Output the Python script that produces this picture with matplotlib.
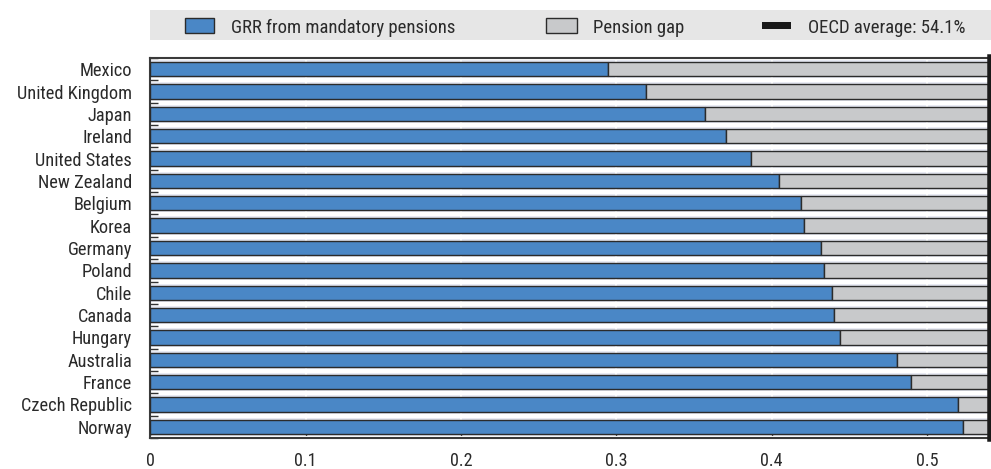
import matplotlib
matplotlib.use("Agg")
import matplotlib.pyplot as plt
from matplotlib import font_manager
from matplotlib.patches import Rectangle
import numpy as np

names = {f.name for f in font_manager.fontManager.ttflist}
fam = "DejaVu Sans"
for cand in ["Roboto Condensed", "Liberation Sans Narrow", "Fira Sans Condensed",
             "Archivo Narrow", "IBM Plex Sans Condensed", "Open Sans Condensed"]:
    if cand in names:
        fam = cand
        break
plt.rcParams['font.family'] = [fam, "DejaVu Sans"]

countries = ["Mexico", "United Kingdom", "Japan", "Ireland", "United States",
             "New Zealand", "Belgium", "Korea", "Germany", "Poland", "Chile",
             "Canada", "Hungary", "Australia", "France", "Czech Republic", "Norway"]
grr = [0.295, 0.319, 0.357, 0.371, 0.387, 0.405, 0.419, 0.421, 0.432, 0.434,
       0.439, 0.440, 0.444, 0.481, 0.490, 0.520, 0.523]
oecd_avg = 0.541
gap = [oecd_avg - g for g in grr]
xticks = [0, 0.1, 0.2, 0.3, 0.4, 0.5]
legend_labels = ["GRR from mandatory pensions", "Pension gap", "OECD average: 54.1%"]

blue = "#4a87c6"
grey = "#c8c9cb"
edge = "#2b2b2b"
txtc = "#2a2a2a"

W, H = 991, 469
fig = plt.figure(figsize=(W/100, H/100), dpi=100)
ax = fig.add_axes([150.3/W, 31/H, (990.5-150.3)/W, 380/H])
ax.set_facecolor("#e6e9f3")

y = np.arange(len(countries))
ax.barh(y, grr, height=0.64, color=blue, edgecolor=edge, linewidth=1.0, zorder=3)
ax.barh(y, gap, left=grr, height=0.64, color=grey, edgecolor=edge, linewidth=1.0, zorder=3)
ax.axvline(oecd_avg, color="#1a1a1a", linewidth=5.4, zorder=5, clip_on=False)

ax.set_ylim(len(countries) - 0.5, -0.5)
ax.set_xlim(0, oecd_avg)
ax.set_yticks(y)
ax.set_yticklabels(countries, fontsize=13.2, color=txtc)
ax.set_yticks(np.arange(-0.5, len(countries), 1.0), minor=True)
ax.set_xticks(xticks)
ax.set_xticklabels([f"{t:g}" for t in xticks], fontsize=13, color=txtc)
ax.tick_params(axis='y', which='major', length=0, pad=13)
ax.tick_params(axis='y', which='minor', direction='in', length=6, width=1, color="#333333")
ax.tick_params(axis='x', which='major', direction='in', length=6, width=1, color="#333333", pad=10)

ax.grid(axis='x', which='major', color='white', linewidth=1.2, zorder=1)
ax.grid(axis='y', which='minor', color='white', linewidth=3, zorder=1)
ax.set_axisbelow(True)

for s in ["left", "bottom", "top"]:
    ax.spines[s].set_color("#3a3a3a")
    ax.spines[s].set_linewidth(1.5)
ax.spines["right"].set_visible(False)

def fx(px):
    return px / W
def fy(py):
    return 1 - py / H

# legend band
fig.patches.append(Rectangle((fx(150), fy(40)), fx(991) - fx(150), 30/H,
                             transform=fig.transFigure, facecolor="#e6e6e6",
                             edgecolor="none", zorder=0))
fig.patches.append(Rectangle((fx(185), fy(33)), 29/W, 15/H, transform=fig.transFigure,
                             facecolor=blue, edgecolor=edge, linewidth=1.0, zorder=2))
fig.patches.append(Rectangle((fx(546), fy(33)), 31/W, 15/H, transform=fig.transFigure,
                             facecolor=grey, edgecolor=edge, linewidth=1.0, zorder=2))
fig.patches.append(Rectangle((fx(762), fy(29)), 29/W, 6.5/H, transform=fig.transFigure,
                             facecolor="#1a1a1a", edgecolor="none", zorder=2))
for xpx, lab in zip([231, 593, 808], legend_labels):
    fig.text(fx(xpx), fy(33), lab, fontsize=13.5, color=txtc, va='baseline', ha='left')

fig.savefig("out.png", dpi=100)
